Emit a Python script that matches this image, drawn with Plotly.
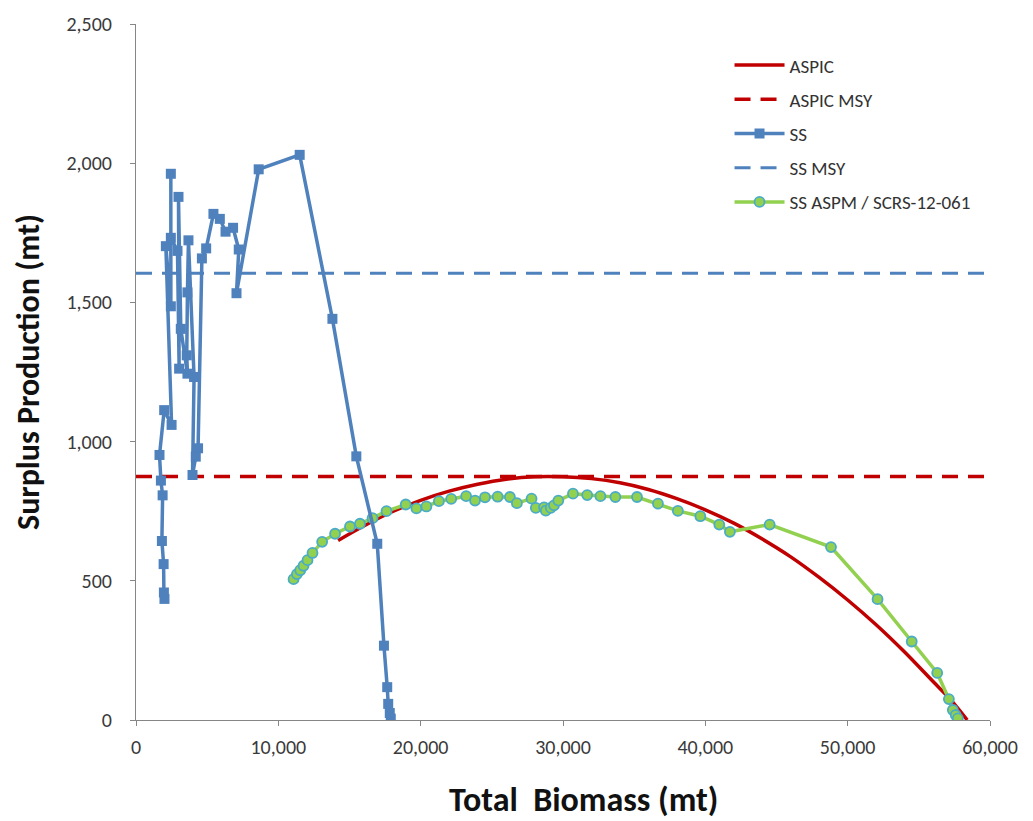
import plotly.graph_objects as go

# ---------------- data ----------------
aspic_b = [14200, 16000, 18000, 20000, 22000, 24000, 26000, 28000, 30000, 32000,
           34000, 36000, 38000, 40000, 42000, 44000, 46000, 48000, 50000, 52000,
           54000, 56000, 57200, 58400]
aspic_p = [645, 697, 748, 789, 822, 847, 865, 874, 874, 867,
           852, 828, 795, 755, 707, 650, 586, 512, 431, 342,
           244, 138, 75, 0]

aspic_msy = 875
ss_msy = 1605

ss_b = [17900, 17830, 17720, 17650, 17420, 16950, 15480, 13800, 11500, 8620,
        7060, 7220, 6820, 6290, 5890, 5440, 4930, 4630, 4360, 4200,
        3970, 4080, 3685, 3614, 3566, 3614, 3147, 2985, 3030, 2915,
        2448, 2448, 2448, 2098, 2500, 1980, 1650, 1750, 1870, 1820,
        1940, 1960, 2000]
ss_p = [5, 25, 58, 118, 267, 633, 947, 1441, 2030, 1978,
        1533, 1690, 1768, 1754, 1800, 1818, 1694, 1658, 976, 946,
        880, 1232, 1723, 1536, 1310, 1244, 1405, 1879, 1262, 1685,
        1732, 1962, 1486, 1702, 1060, 1113, 952, 860, 807, 643,
        560, 458, 435]

aspm_b = [11070, 11305, 11538, 11770, 12050, 12400, 13077, 13986, 15035, 15734,
          16620, 17600, 18950, 19700, 20400, 21280, 22145, 23195, 23820, 24520,
          25410, 26270, 26760, 27790, 28090, 28670, 28790, 29140, 29370, 29670,
          30700, 31700, 32630, 33680, 35200, 36670, 38070, 39650, 40980, 41725,
          44520, 48830, 52100, 54500, 56290, 57110, 57390, 57590, 57740]
aspm_p = [506, 524, 538, 554, 574, 600, 640, 669, 695, 705,
          725, 750, 774, 760, 767, 786, 794, 804, 788, 800,
          802, 801, 779, 795, 762, 764, 752, 762, 771, 788,
          813, 808, 804, 801, 801, 777, 751, 732, 702, 676,
          702, 621, 434, 282, 169, 75, 36, 18, 6]

x_range = [0, 60000]
y_range = [0, 2500]
x_ticks = [0, 10000, 20000, 30000, 40000, 50000, 60000]
y_ticks = [0, 500, 1000, 1500, 2000, 2500]

RED = "#C00000"
BLUE = "#4F81BD"
GREEN = "#92D050"
AQUA = "#4BACC6"
FONT = "Carlito, Lato, 'Open Sans', sans-serif"

fig = go.Figure()

fig.add_trace(go.Scatter(x=x_range, y=[aspic_msy, aspic_msy], mode="lines",
                         name="ASPIC MSY", legendrank=2, legendgroup="b",
                         line=dict(color=RED, width=3.5, dash="16px,10px")))
fig.add_trace(go.Scatter(x=x_range, y=[ss_msy, ss_msy], mode="lines",
                         name="SS MSY", legendrank=4, legendgroup="d",
                         line=dict(color=BLUE, width=3, dash="16px,10px")))
fig.add_trace(go.Scatter(x=aspic_b, y=aspic_p, mode="lines", name="ASPIC",
                         legendrank=1, legendgroup="a",
                         line=dict(color=RED, width=3.5, shape="spline")))
fig.add_trace(go.Scatter(x=aspm_b, y=aspm_p, mode="lines+markers",
                         name="SS ASPM / SCRS-12-061", legendrank=5, legendgroup="e",
                         line=dict(color=GREEN, width=3.5),
                         marker=dict(symbol="circle", size=10, color=GREEN,
                                     line=dict(color=AQUA, width=1.8))))
fig.add_trace(go.Scatter(x=ss_b, y=ss_p, mode="lines+markers", name="SS",
                         legendrank=3, legendgroup="c",
                         line=dict(color=BLUE, width=3.5),
                         marker=dict(symbol="square", size=10, color=BLUE)))

axis_common = dict(showline=True, linecolor="#868686", linewidth=1,
                   ticks="outside", ticklen=5, tickcolor="#868686",
                   showgrid=False, zeroline=False,
                   tickfont=dict(family=FONT, size=20, color="#3a3a3a"))

fig.update_layout(
    width=1033, height=821,
    margin=dict(l=136, r=43, t=19, b=101),
    paper_bgcolor="white", plot_bgcolor="white",
    font=dict(family=FONT),
    xaxis=dict(range=x_range, tickvals=x_ticks, tickformat=",d",
               ticklabelstandoff=4, **axis_common),
    yaxis=dict(range=y_range, tickvals=y_ticks, tickformat=",d",
               ticklabelstandoff=14, **axis_common),
    legend=dict(x=0.695, y=0.968, xanchor="left", yanchor="top",
                font=dict(family=FONT, size=19, color="#333333"),
                itemwidth=50, tracegroupgap=6.5, bgcolor="rgba(0,0,0,0)"),
    annotations=[
        dict(text="<b>Total  Biomass (mt)</b>", xref="paper", yref="paper",
             x=0.524, y=-0.114, xanchor="center", yanchor="middle",
             showarrow=False, font=dict(family=FONT, size=34, color="#111111")),
        dict(text="<b>Surplus Production (mt)</b>", xref="paper", yref="paper",
             x=-0.1265, y=0.5, xanchor="center", yanchor="middle", textangle=-90,
             showarrow=False, font=dict(family=FONT, size=32, color="#111111")),
    ],
)

fig.write_html("out.html")
